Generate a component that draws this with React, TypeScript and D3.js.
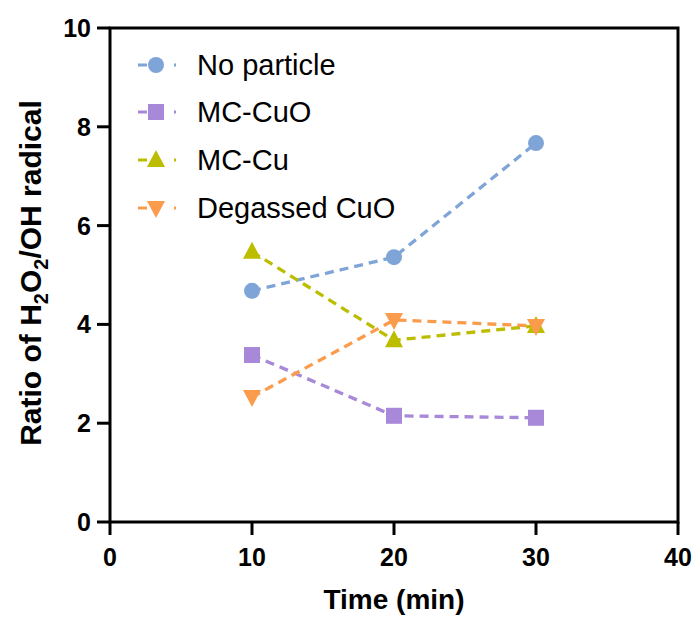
import React from "react";
import * as d3 from "d3";

const times = [10, 20, 30];
const seriesNames = ["No particle", "MC-CuO", "MC-Cu", "Degassed CuO"];
const noParticle = [4.68, 5.36, 7.67];
const mcCuO = [3.38, 2.15, 2.11];
const mcCu = [5.47, 3.68, 3.97];
const degassedCuO = [2.53, 4.09, 3.97];
const seriesColors = ["#7fa4d8", "#a888d8", "#bdbd00", "#fb9b4c"];
const seriesSymbols = ["circle", "square", "triangle", "triangleDown"];
const xTicks = [0, 10, 20, 30, 40];
const yTicks = [0, 2, 4, 6, 8, 10];

const W = 694, H = 617;
const L = 110, R = 678, T = 28, B = 522;

function Marker({ type, x, y, color }: { type: string; x: number; y: number; color: string }) {
  if (type === "circle") return <circle cx={x} cy={y} r={8} fill={color} />;
  if (type === "square") return <rect x={x - 8} y={y - 8} width={16} height={16} fill={color} />;
  if (type === "triangle")
    return <path d={`M${x},${y - 10}L${x + 9},${y + 7}L${x - 9},${y + 7}Z`} fill={color} />;
  return <path d={`M${x},${y + 10}L${x + 9},${y - 7}L${x - 9},${y - 7}Z`} fill={color} />;
}

export default function App() {
  const x = d3.scaleLinear().domain([0, 40]).range([L, R]);
  const y = d3.scaleLinear().domain([0, 10]).range([B, T]);
  const data = [noParticle, mcCuO, mcCu, degassedCuO];
  const line = d3
    .line<number>()
    .x((_, i) => x(times[i]))
    .y((d) => y(d));
  const font = "'Liberation Sans', Arial, sans-serif";
  const legendY = [65, 112, 160, 208];
  return (
    <svg width={W} height={H} style={{ display: "block", position: "absolute", left: 0, top: 0 }} fontFamily={font}>
      <rect width={W} height={H} fill="#fff" />
      {data.map((s, k) => (
        <path
          key={"l" + k}
          d={line(s) || ""}
          fill="none"
          stroke={seriesColors[k]}
          strokeWidth={3.3}
          strokeDasharray="9,6"
        />
      ))}
      {data.map((s, k) =>
        s.map((v, i) => (
          <Marker key={"m" + k + "-" + i} type={seriesSymbols[k]} x={x(times[i])} y={y(v)} color={seriesColors[k]} />
        ))
      )}
      <rect x={L} y={T} width={R - L} height={B - T} fill="none" stroke="#000" strokeWidth={3} />
      {xTicks.map((t) => (
        <g key={"x" + t}>
          <line x1={x(t)} x2={x(t)} y1={B} y2={B + 13} stroke="#000" strokeWidth={3} />
          <text x={x(t)} y={566} textAnchor="middle" fontSize={25} fontWeight="bold">
            {t}
          </text>
        </g>
      ))}
      {yTicks.map((t) => (
        <g key={"y" + t}>
          <line x1={L - 13} x2={L} y1={y(t)} y2={y(t)} stroke="#000" strokeWidth={3} />
          <text x={91} y={y(t) + 9} textAnchor="end" fontSize={25} fontWeight="bold">
            {t}
          </text>
        </g>
      ))}
      <text x={394} y={609} textAnchor="middle" fontSize={28} fontWeight="bold">
        Time (min)
      </text>
      <text transform={`translate(41,${(T + B) / 2 - 2}) rotate(-90)`} textAnchor="middle" fontSize={30} fontWeight="bold">
        Ratio of H<tspan fontSize={20} dy={7}>2</tspan>
        <tspan dy={-7}>O</tspan>
        <tspan fontSize={20} dy={7}>2</tspan>
        <tspan dy={-7}>/OH radical</tspan>
      </text>
      {seriesNames.map((n, k) => (
        <g key={"lg" + k}>
          <line x1={138} x2={176} y1={legendY[k]} y2={legendY[k]} stroke={seriesColors[k]} strokeWidth={3} strokeDasharray="9,9" />
          <rect x={147} y={legendY[k] - 6} width={18} height={12} fill="#fff" />
          <Marker type={seriesSymbols[k]} x={156} y={legendY[k]} color={seriesColors[k]} />
          <text x={197} y={legendY[k] + 10} fontSize={29}>
            {n}
          </text>
        </g>
      ))}
    </svg>
  );
}
